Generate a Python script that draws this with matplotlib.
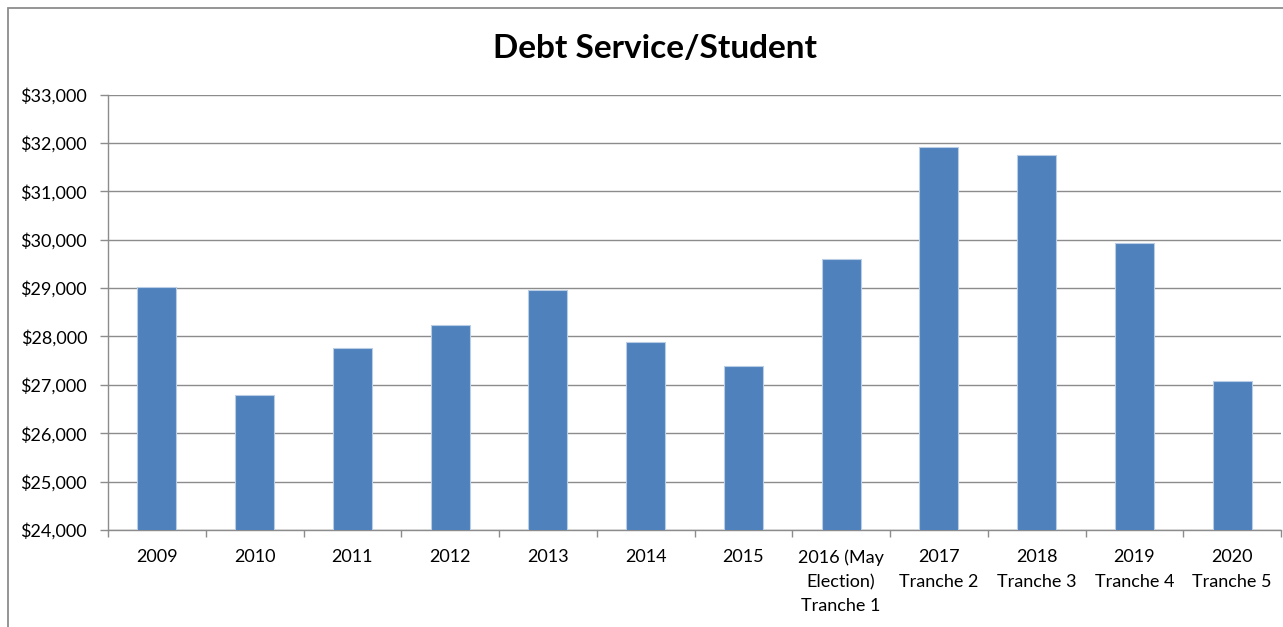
import matplotlib
matplotlib.use("Agg")
import matplotlib.pyplot as plt
from matplotlib.patches import Rectangle
from matplotlib.ticker import FuncFormatter, MultipleLocator
import numpy as np

BAR_BLUE  = "#4F81BD"
BAR_EDGE  = "#B9CDE5"
GRID_GRAY = "#8C8C8C"
TEXT      = "#000000"

LABELS = ["2009", "2010", "2011", "2012", "2013", "2014", "2015",
          "2016 (May\nElection)\nTranche 1", "2017\nTranche 2", "2018\nTranche 3",
          "2019\nTranche 4", "2020\nTranche 5"]
DEBT_PER_STUDENT = [29030, 26800, 27770, 28240, 28970, 27890, 27380,
                    29610, 31920, 31750, 29930, 27070]

plt.rcParams["font.family"] = ["Lato", "DejaVu Sans"]

fig = plt.figure(figsize=(12.83, 6.27), dpi=100, facecolor="white")
ax = fig.add_axes([108 / 1283, 1 - 530 / 627, (1281 - 108) / 1283, (530 - 94.5) / 627])

# outer chart frame (cut off at right and bottom in the source)
fig.patches.append(Rectangle((8 / 1283, -0.1), 1.2, 1 - 8 / 627 + 0.1,
                             transform=fig.transFigure, fill=False,
                             edgecolor="#8C8C8C", linewidth=1.3))

x = np.arange(len(LABELS))
ax.bar(x, DEBT_PER_STUDENT, width=0.4, color=BAR_BLUE, edgecolor=BAR_EDGE,
       linewidth=0.8, zorder=3)

ax.set_xlim(-0.5, len(LABELS) - 0.5)
ax.set_ylim(24000, 33000)
ax.yaxis.set_major_locator(MultipleLocator(1000))
ax.yaxis.set_major_formatter(FuncFormatter(lambda v, _: f"${v:,.0f}"))
ax.yaxis.grid(True, color=GRID_GRAY, linewidth=1.0, zorder=0)
ax.set_axisbelow(True)

ax.set_xticks(x)
ax.set_xticklabels(LABELS, fontsize=13, color=TEXT, linespacing=1.62, va="top")
ax.set_xticks(np.arange(len(LABELS) + 1) - 0.5, minor=True)
ax.tick_params(axis="x", which="major", length=0, pad=14)
ax.tick_params(axis="x", which="minor", length=5, color=GRID_GRAY, width=1.0)
ax.tick_params(axis="y", length=6, color=GRID_GRAY, width=1.0, labelsize=13,
               labelcolor=TEXT, pad=9)

for side in ("top", "right"):
    ax.spines[side].set_visible(False)
ax.spines["left"].set_color(GRID_GRAY)
ax.spines["bottom"].set_color(GRID_GRAY)
ax.spines["left"].set_linewidth(1.0)
ax.spines["bottom"].set_linewidth(1.0)

fig.text(655 / 1283, 1 - 48 / 627, "Debt Service/Student", ha="center", va="center",
         fontsize=24, fontweight="bold", color=TEXT)

fig.savefig("out.png", dpi=100, facecolor="white")
